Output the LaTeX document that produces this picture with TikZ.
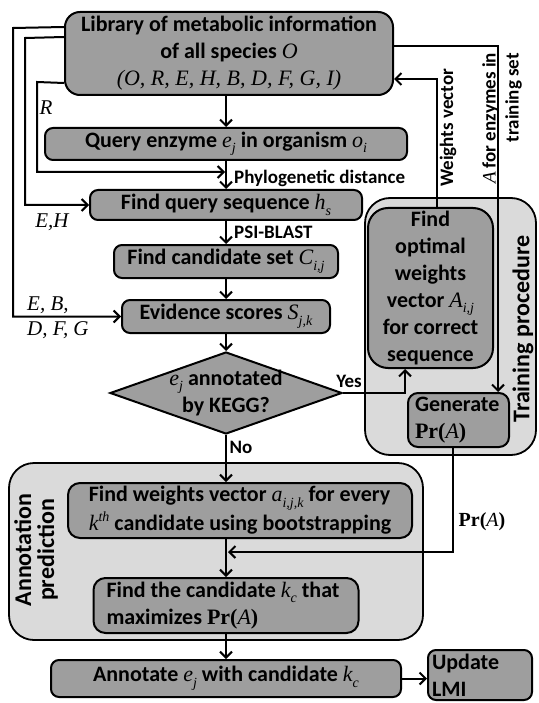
\documentclass[tikz,border=0pt]{standalone}
\usepackage{fontspec}
\setmainfont{Carlito}
\newfontfamily\tms{Liberation Serif}
\usetikzlibrary{arrows.meta,shapes.geometric}
\definecolor{boxgray}{RGB}{158,158,158}
\definecolor{reggray}{RGB}{218,218,218}
\newcommand\mv[1]{{\tms\itshape\mdseries #1}}
\newcommand\subs[1]{\raisebox{-0.25em}{\fontsize{14}{14}\selectfont\tms\itshape\mdseries #1}}
\newcommand\sups[1]{\raisebox{0.45em}{\fontsize{14}{14}\selectfont\tms\itshape\mdseries #1}}
\newcommand\PrA{{\tms Pr(\mv{A})}}
\tikzset{
  box/.style={draw, line width=2pt, fill=boxgray, rounded corners=10pt, inner sep=0pt,
    font=\bfseries\fontsize{22}{27}\selectfont, align=center},
  region/.style={draw, line width=1.8pt, fill=reggray, rounded corners=25pt, inner sep=0pt},
  arr/.style={line width=2pt, -{Straight Barb[length=6pt,width=12pt]}},
  conn/.style={line width=2pt},
  lbl/.style={font=\bfseries\fontsize{19}{23}\selectfont, inner sep=0pt},
  var/.style={font=\tms\itshape\fontsize{21}{25}\selectfont, inner sep=0pt},
  title/.style={font=\bfseries\fontsize{24}{23}\selectfont, inner sep=0pt, align=center, rotate=90},
}
\begin{document}
\begin{tikzpicture}[x=1pt,y=-1pt]
\useasboundingbox (0,0) rectangle (538,703);
% regions
\node[region, minimum width=171, minimum height=257] (train) at (450.5,326.5) {};
\node[region, minimum width=414, minimum height=177] (annreg) at (216,551.5) {};
\node[title] (traintitle) at (523,329) {Training procedure};
\node[title] (anntitle) at (36,550) {Annotation\\prediction};
% boxes
\node[box, rounded corners=15pt, minimum width=328, minimum height=83] (lib) at (229,53.5)
  {Library of metabolic information\\ of all species \mv{O}\\ \mv{(O, R, E, H, B, D, F, G, I)}};
\node[box, rounded corners=8pt, minimum width=362, minimum height=32] (query) at (226,144)
  {Query enzyme \mv{e}\subs{j} in organism \mv{o}\subs{i}};
\node[box, rounded corners=8pt, minimum width=272, minimum height=30] (fqs) at (226,205)
  {Find query sequence \mv{h}\subs{s}};
\node[box, rounded corners=8pt, minimum width=224, minimum height=33] (fcs) at (226,261.5)
  {Find candidate set \mv{C}\subs{i,j}};
\node[box, rounded corners=8pt, minimum width=208, minimum height=33] (evid) at (226,316.5)
  {Evidence scores \mv{S}\subs{j,k}};
\node[diamond, draw, line width=2pt, fill=boxgray, inner sep=0pt, minimum width=232, minimum height=82,
  label={[font=\bfseries\fontsize{22}{27}\selectfont, align=center]center:\mv{e}\subs{j} annotated\\by KEGG?}] (dia) at (226,393) {};
\node[box, rounded corners=20pt, minimum width=125, minimum height=160] (fopt) at (430.5,288)
  {Find\\optimal\\weights\\vector \mv{A}\subs{i,j}\\for correct\\sequence};
\node[box, rounded corners=10pt, minimum width=101, minimum height=54, text width=87pt, align=flush left] (gen) at (458.5,420)
  {Generate\\\PrA};
\node[box, rounded corners=12pt, minimum width=344, minimum height=55, align=left] (fwv) at (240,510.5)
  {Find weights vector \mv{a}\subs{i,j,k} for every\\\mv{k}\sups{th} candidate using bootstrapping};
\node[box, rounded corners=12pt, minimum width=265, minimum height=55, text width=239pt, align=flush left] (fkc) at (226,605.5)
  {Find the candidate \mv{k}\subs{c} that\\maximizes \PrA};
\node[box, rounded corners=8pt, minimum width=350, minimum height=37] (annot) at (226,678.5)
  {Annotate \mv{e}\subs{j} with candidate \mv{k}\subs{c}};
\node[box, rounded corners=8pt, minimum width=104, minimum height=50, text width=96pt, align=flush left] (upd) at (480,675)
  {Update\\LMI};
% coordinates
\coordinate (phylo) at (225,172);
\coordinate (prin) at (228,552);
% connectors
\draw[arr] (lib.south -| query.north) -- (query.north);
\draw[arr] (query.south) -- (fqs.north);
\draw[arr] ([yshift=13pt]lib.south west) -- (37,82) |- (phylo);
\draw[arr] ([yshift=-16pt]lib.north west) -- (13,28) |- (evid.west);
\draw[arr] ([yshift=-26pt]lib.north west) -- (25,38) |- (fqs.west);
\draw[arr] (fqs.south) -- (fcs.north);
\draw[arr] (fcs.south) -- (evid.north);
\draw[arr] (evid.south) -- (dia.north);
\draw[arr] (dia.east) -| ([xshift=-25.5pt]fopt.south);
\draw[arr] (dia.south) -- (dia.south |- fwv.north);
\draw[arr] ([xshift=6.5pt]fopt.north) |- ([yshift=-68pt]lib.north east);
\draw[arr] ([yshift=-35pt]lib.north east) -| ([xshift=39.5pt]gen.north);
\draw[arr] ([xshift=-5.5pt]gen.south) |- (prin);
\draw[arr] (fwv.south -| fkc.north) -- (fkc.north);
\draw[arr] (fkc.south) -- (fkc.south |- annot.north);
\draw[arr] (annot.east) -- (annot.east -| upd.west);
% labels
\node[lbl, anchor=west] (lphylo) at (234,178) {Phylogenetic distance};
\node[lbl, anchor=west] (lpsi) at (234,232) {PSI-BLAST};
\node[lbl] (lyes) at (349,381) {Yes};
\node[lbl] (lno) at (241,447) {No};
\node[lbl, font=\bfseries\fontsize{20}{23}\selectfont] (lpra) at (482,522) {\PrA};
\node[lbl, rotate=90] (lweights) at (448,128) {Weights vector};
\node[lbl, rotate=90, align=right] (lafor) at (502,118.5) {\mv{A} for enzymes in\\training set};
\node[var] (lr) at (46,108) {R};
\node[var] (leh) at (52,222) {E,H};
\node[var, anchor=west] (leb) at (27,305) {E, B,};
\node[var, anchor=west] (ldf) at (27,330) {D, F, G};
\end{tikzpicture}
\end{document}
